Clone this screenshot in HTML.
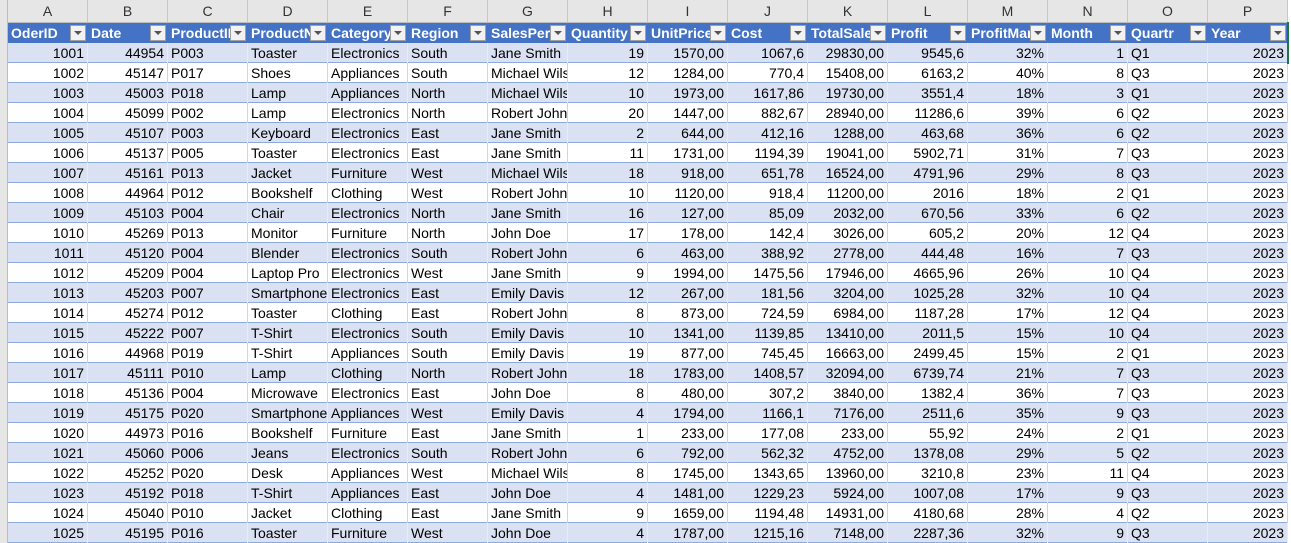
<!DOCTYPE html>
<html><head><meta charset="utf-8"><style>
body{margin:0;width:1291px;height:543px;overflow:hidden;background:#fff;font-family:"Liberation Sans",sans-serif;font-size:14px;position:relative}
.c{position:absolute;box-sizing:border-box;height:20px;line-height:20px;white-space:nowrap;overflow:hidden;padding:0 3px;color:#000}
.ch{position:absolute;top:0;height:23px;line-height:23px;text-align:center;background:#e6e6e6;border-right:1px solid #c8c8c8;border-bottom:1px solid #bdbdbd;box-sizing:border-box;color:#333;font-size:14px}
.h{position:absolute;top:23px;height:20px;line-height:20px;background:#4472C4;color:#fff;font-weight:bold;box-sizing:border-box;padding:0 3px;overflow:hidden;white-space:nowrap}
.dd{position:absolute;top:25px;width:16px;height:16px;background:#f2f2f2;border:1px solid #a0a0a0;box-sizing:border-box}
.dd:after{content:"";position:absolute;left:3px;top:5px;border-left:4px solid transparent;border-right:4px solid transparent;border-top:4px solid #555}
.r{text-align:right}
</style></head><body>
<div style="position:absolute;left:0;top:0;width:8px;height:543px;background:#e6e6e6;border-right:1px solid #bdbdbd;box-sizing:border-box"></div>
<div id="sheet"></div>
<div style="position:absolute;left:1287px;top:22px;width:4px;height:42px;border-left:2px solid #217346;box-sizing:border-box"></div>
<script>
const letters=["A","B","C","D","E","F","G","H","I","J","K","L","M","N","O","P"];
const headers=["OderID","Date","ProductID","ProductName","Category","Region","SalesPerson","Quantity","UnitPrice","Cost","TotalSales","Profit","ProfitMargin","Month","Quartr","Year"];
const rightAlign=[1,1,0,0,0,0,0,1,1,1,1,1,1,1,0,1];
const rows=[
[1001,44954,"P003","Toaster","Electronics","South","Jane Smith",19,"1570,00","1067,6","29830,00","9545,6","32%",1,"Q1",2023],
[1002,45147,"P017","Shoes","Appliances","South","Michael Wilson",12,"1284,00","770,4","15408,00","6163,2","40%",8,"Q3",2023],
[1003,45003,"P018","Lamp","Appliances","North","Michael Wilson",10,"1973,00","1617,86","19730,00","3551,4","18%",3,"Q1",2023],
[1004,45099,"P002","Lamp","Electronics","North","Robert Johnson",20,"1447,00","882,67","28940,00","11286,6","39%",6,"Q2",2023],
[1005,45107,"P003","Keyboard","Electronics","East","Jane Smith",2,"644,00","412,16","1288,00","463,68","36%",6,"Q2",2023],
[1006,45137,"P005","Toaster","Electronics","East","Jane Smith",11,"1731,00","1194,39","19041,00","5902,71","31%",7,"Q3",2023],
[1007,45161,"P013","Jacket","Furniture","West","Michael Wilson",18,"918,00","651,78","16524,00","4791,96","29%",8,"Q3",2023],
[1008,44964,"P012","Bookshelf","Clothing","West","Robert Johnson",10,"1120,00","918,4","11200,00","2016","18%",2,"Q1",2023],
[1009,45103,"P004","Chair","Electronics","North","Jane Smith",16,"127,00","85,09","2032,00","670,56","33%",6,"Q2",2023],
[1010,45269,"P013","Monitor","Furniture","North","John Doe",17,"178,00","142,4","3026,00","605,2","20%",12,"Q4",2023],
[1011,45120,"P004","Blender","Electronics","South","Robert Johnson",6,"463,00","388,92","2778,00","444,48","16%",7,"Q3",2023],
[1012,45209,"P004","Laptop Pro","Electronics","West","Jane Smith",9,"1994,00","1475,56","17946,00","4665,96","26%",10,"Q4",2023],
[1013,45203,"P007","Smartphone","Electronics","East","Emily Davis",12,"267,00","181,56","3204,00","1025,28","32%",10,"Q4",2023],
[1014,45274,"P012","Toaster","Clothing","East","Robert Johnson",8,"873,00","724,59","6984,00","1187,28","17%",12,"Q4",2023],
[1015,45222,"P007","T-Shirt","Electronics","South","Emily Davis",10,"1341,00","1139,85","13410,00","2011,5","15%",10,"Q4",2023],
[1016,44968,"P019","T-Shirt","Appliances","South","Emily Davis",19,"877,00","745,45","16663,00","2499,45","15%",2,"Q1",2023],
[1017,45111,"P010","Lamp","Clothing","North","Robert Johnson",18,"1783,00","1408,57","32094,00","6739,74","21%",7,"Q3",2023],
[1018,45136,"P004","Microwave","Electronics","East","John Doe",8,"480,00","307,2","3840,00","1382,4","36%",7,"Q3",2023],
[1019,45175,"P020","Smartphone","Appliances","West","Emily Davis",4,"1794,00","1166,1","7176,00","2511,6","35%",9,"Q3",2023],
[1020,44973,"P016","Bookshelf","Furniture","East","Jane Smith",1,"233,00","177,08","233,00","55,92","24%",2,"Q1",2023],
[1021,45060,"P006","Jeans","Electronics","South","Robert Johnson",6,"792,00","562,32","4752,00","1378,08","29%",5,"Q2",2023],
[1022,45252,"P020","Desk","Appliances","West","Michael Wilson",8,"1745,00","1343,65","13960,00","3210,8","23%",11,"Q4",2023],
[1023,45192,"P018","T-Shirt","Appliances","East","John Doe",4,"1481,00","1229,23","5924,00","1007,08","17%",9,"Q3",2023],
[1024,45040,"P010","Jacket","Clothing","East","Jane Smith",9,"1659,00","1194,48","14931,00","4180,68","28%",4,"Q2",2023],
[1025,45195,"P016","Toaster","Furniture","West","John Doe",4,"1787,00","1215,16","7148,00","2287,36","32%",9,"Q3",2023]
];
const S=document.getElementById('sheet');
const X0=8,W=80,TOP=43,RH=20;
letters.forEach((l,i)=>{
 const d=document.createElement('div');d.className='ch';
 d.style.left=(X0+i*W)+'px';d.style.width=W+'px';d.textContent=l;
 
 
 S.appendChild(d);
 const h=document.createElement('div');h.className='h';
 h.style.left=(X0+i*W)+'px';h.style.width=(W-18)+'px';h.textContent=headers[i];
 
 
 S.appendChild(h);
 const hb=document.createElement('div');hb.style.cssText='position:absolute;top:23px;height:20px;background:#4472C4;left:'+(X0+i*W+W-18)+'px;width:18px';
 
 
 S.appendChild(hb);
 const dd=document.createElement('div');dd.className='dd';dd.style.left=(X0+i*W+W-18)+'px';
 
 
 S.appendChild(dd);
});
rows.forEach((row,r)=>{
 const y=TOP+r*RH;
 const bg=document.createElement('div');
 bg.style.cssText='position:absolute;left:'+X0+'px;top:'+y+'px;width:'+(16*W)+'px;height:'+RH+'px;box-sizing:border-box;border-bottom:1px solid #8EA9DB;background:'+(r%2==0?'#D9E1F2':'#fff');
 
 
 S.appendChild(bg);
 row.forEach((v,i)=>{
  const c=document.createElement('div');c.className='c'+(rightAlign[i]?' r':'');
  c.style.left=(X0+i*W)+'px';c.style.top=y+'px';c.style.width=W+'px';
  c.style.borderRight='1px solid '+(r%2==0?'#e8ecf6':'#d4d4d4');
  c.textContent=v;
  
  
  S.appendChild(c);
 });
});
</script>
</body></html>
